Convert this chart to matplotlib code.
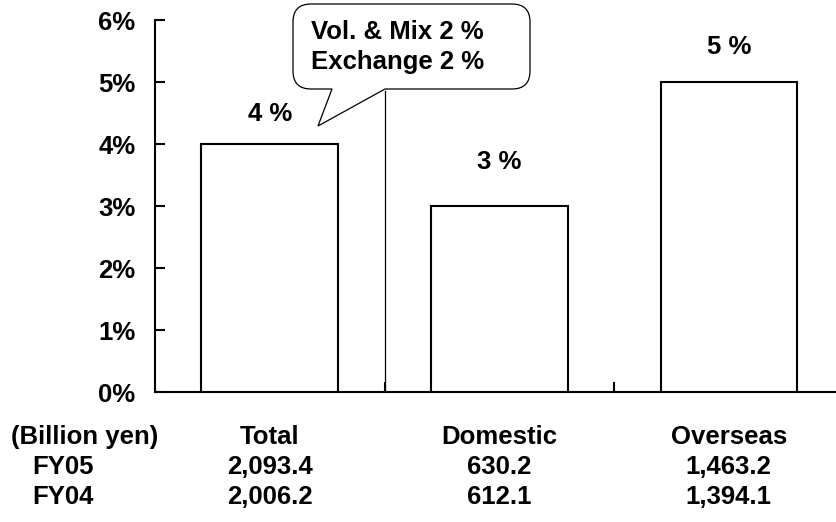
import numpy as np
import matplotlib
matplotlib.use('Agg')
import matplotlib.pyplot as plt
from matplotlib.path import Path
from matplotlib.patches import PathPatch

plt.rcParams.update({
    'font.family': ['Liberation Sans', 'DejaVu Sans'],
    'font.weight': 'bold',
    'font.size': 18.5,
})

# data
categories = ['Total', 'Domestic', 'Overseas']
growth_pct = [4, 3, 5]
growth_labels = ['4 %', '3 %', '5 %']
fy05 = ['2,093.4', '630.2', '1,463.2']
fy04 = ['2,006.2', '612.1', '1,394.1']
callout_lines = ['Vol. & Mix 2 %', 'Exchange 2 %']
yticks = [0, 1, 2, 3, 4, 5, 6]

W, H = 836, 522
fig = plt.figure(figsize=(W / 100, H / 100), dpi=100)
ax = fig.add_axes([155 / W, (H - 392) / H, 1 - 155 / W, (392 - 20) / H])

x = np.arange(len(categories))
ax.bar(x, growth_pct, width=0.595, facecolor='white', edgecolor='black',
       linewidth=1.5, zorder=3)

ax.set_xlim(-0.5, 2.467)
ax.set_ylim(0, 6)
ax.set_yticks(yticks)
ax.set_yticklabels([f'{t}%' for t in yticks])
ax.set_xticks([0.5, 1.5])
ax.set_xticklabels([])
ax.tick_params(axis='y', direction='in', length=7, width=1.5, pad=14)
ax.tick_params(axis='x', direction='in', length=7, width=1.5)
for s in ('top', 'right'):
    ax.spines[s].set_visible(False)
ax.spines['left'].set_linewidth(1.5)
ax.spines['bottom'].set_linewidth(1.5)

# value labels above bars (pixel offsets)
label_pad = [30, 44, 35]
for xi, v, lab, pad in zip(x, growth_pct, growth_labels, label_pad):
    ax.annotate(lab, (xi, v), xytext=(0, pad * 0.72), textcoords='offset points',
                ha='center', va='center')

# leader line from the callout down to the axis
ax.plot([0.5, 0.5], [0, 4.85], color='black', linewidth=0.9, zorder=2)

# speech-bubble callout, drawn in figure pixels
def px(xp, yp):
    return (xp / W, 1 - yp / H)

l, r, t, b, rad = 293, 530, 4, 89, 18
tail = [(385, b), (318, 126), (332, b)]
verts = [px(l + rad, t), px(r - rad, t), px(r, t), px(r, t + rad),
         px(r, b - rad), px(r, b), px(r - rad, b),
         px(*tail[0]), px(*tail[1]), px(*tail[2]),
         px(l + rad, b), px(l, b), px(l, b - rad),
         px(l, t + rad), px(l, t), px(l + rad, t), px(l + rad, t)]
codes = [Path.MOVETO, Path.LINETO, Path.CURVE3, Path.CURVE3,
         Path.LINETO, Path.CURVE3, Path.CURVE3,
         Path.LINETO, Path.LINETO, Path.LINETO,
         Path.LINETO, Path.CURVE3, Path.CURVE3,
         Path.LINETO, Path.CURVE3, Path.CURVE3, Path.CLOSEPOLY]
fig.patches.append(PathPatch(Path(verts, codes), transform=fig.transFigure,
                             facecolor='white', edgecolor='black',
                             linewidth=0.9, zorder=5))
for i, line in enumerate(callout_lines):
    fig.text(311 / W, 1 - (32 + 30 * i) / H, line, ha='left', va='center',
             zorder=6)

# table below the axis
centers_px = [155 + 229.5 * (i + 0.5) for i in range(len(categories))]
fig.text(11 / W, 1 - 437 / H, '(Billion yen)', ha='left', va='center')
fig.text(32 / W, 1 - 467 / H, 'FY05', ha='left', va='center')
fig.text(32 / W, 1 - 497 / H, 'FY04', ha='left', va='center')
for cx, cat, a, b_ in zip(centers_px, categories, fy05, fy04):
    fig.text(cx / W, 1 - 437 / H, cat, ha='center', va='center')
    fig.text(cx / W, 1 - 467 / H, a, ha='center', va='center')
    fig.text(cx / W, 1 - 497 / H, b_, ha='center', va='center')

fig.savefig('out.png', dpi=100)
